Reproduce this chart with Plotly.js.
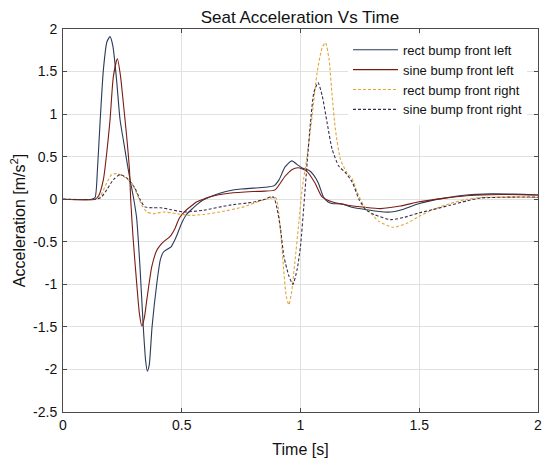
<!DOCTYPE html>
<html>
<head>
<meta charset="utf-8">
<script src="https://cdn.plot.ly/plotly-3.0.1.min.js"></script>
<style>html,body{margin:0;padding:0;background:#fff;}#chart{width:542px;height:459px;}</style>
</head>
<body>
<div id="chart"></div>
<script>
// Time [s] / acceleration [m/s^2] samples
var tRectLeft = [0,0.12,0.135,0.145,0.156,0.17,0.185,0.198,0.21,0.225,0.24,0.255,0.268,0.283,0.298,0.31,0.324,0.338,0.348,0.355,0.363,0.375,0.395,0.41,0.423,0.437,0.455,0.467,0.48,0.5,0.52,0.545,0.565,0.59,0.62,0.66,0.70,0.75,0.80,0.85,0.89,0.91,0.935,0.963,0.985,1.005,1.035,1.054,1.075,1.096,1.115,1.132,1.174,1.216,1.272,1.33,1.38,1.43,1.5,1.6,1.7,1.8,1.9,2.0];
var aRectLeft = [0,0,0.02,0.35,0.9,1.52,1.85,1.91,1.8,1.42,0.94,0.68,0.46,0.22,0,-0.22,-0.79,-1.5,-1.9,-2.02,-1.95,-1.5,-0.99,-0.71,-0.62,-0.59,-0.56,-0.5,-0.42,-0.28,-0.18,-0.11,-0.06,-0.01,0.03,0.07,0.1,0.12,0.13,0.14,0.16,0.23,0.38,0.45,0.41,0.37,0.34,0.29,0.19,0.03,-0.03,-0.05,-0.055,-0.094,-0.12,-0.145,-0.15,-0.12,-0.05,0.01,0.05,0.063,0.06,0.05];

var tSineLeft = [0,0.135,0.15,0.17,0.184,0.198,0.212,0.229,0.242,0.254,0.268,0.28,0.285,0.295,0.31,0.322,0.332,0.342,0.353,0.374,0.395,0.41,0.423,0.45,0.472,0.49,0.514,0.54,0.563,0.6,0.62,0.70,0.80,0.85,0.893,0.935,0.965,0.99,1.026,1.061,1.09,1.132,1.2,1.272,1.336,1.42,1.5,1.6,1.7,1.84,2.0];
var aSineLeft = [0,0,0.04,0.23,0.54,0.93,1.44,1.65,1.45,1.13,0.74,0.34,0.0,-0.45,-0.98,-1.35,-1.49,-1.4,-1.18,-0.79,-0.6,-0.54,-0.5,-0.44,-0.34,-0.22,-0.14,-0.08,-0.03,0.01,0.03,0.07,0.09,0.095,0.11,0.27,0.35,0.37,0.33,0.19,0.03,-0.03,-0.07,-0.095,-0.11,-0.08,-0.03,0.01,0.04,0.055,0.05];

var tRectRight = [0,0.14,0.156,0.184,0.205,0.226,0.254,0.29,0.31,0.332,0.353,0.38,0.423,0.479,0.535,0.59,0.66,0.76,0.83,0.87,0.895,0.905,0.92,0.93,0.94,0.951,0.962,0.976,0.993,1.007,1.028,1.049,1.07,1.091,1.105,1.12,1.133,1.147,1.168,1.196,1.218,1.239,1.267,1.288,1.33,1.39,1.45,1.5,1.56,1.63,1.7,1.76,1.9,2.0];
var aRectRight = [0,0,0.03,0.19,0.29,0.3,0.27,0.19,0.07,-0.07,-0.15,-0.17,-0.15,-0.17,-0.19,-0.18,-0.15,-0.09,-0.02,0.01,0.02,-0.08,-0.51,-0.86,-1.14,-1.24,-1.1,-0.75,-0.27,0.12,0.51,0.98,1.49,1.78,1.84,1.65,1.22,0.82,0.47,0.31,0.24,0.08,-0.08,-0.14,-0.26,-0.33,-0.28,-0.2,-0.12,-0.05,0,0.02,0.025,0.02];

var tSineRight = [0,0.14,0.16,0.184,0.212,0.24,0.268,0.303,0.324,0.345,0.38,0.41,0.451,0.507,0.59,0.7,0.8,0.85,0.875,0.888,0.902,0.916,0.93,0.951,0.968,0.986,1.0,1.014,1.028,1.042,1.056,1.074,1.091,1.112,1.133,1.161,1.19,1.218,1.246,1.274,1.31,1.38,1.44,1.5,1.56,1.63,1.7,1.76,1.9,2.0];
var aSineRight = [0,0,0.02,0.11,0.23,0.29,0.25,0.13,0,-0.09,-0.1,-0.1,-0.12,-0.15,-0.13,-0.07,-0.035,0.0,0.03,0.02,-0.12,-0.35,-0.67,-0.9,-1.0,-0.82,-0.55,-0.08,0.43,0.9,1.25,1.37,1.22,0.9,0.59,0.39,0.31,0.2,0,-0.12,-0.18,-0.24,-0.21,-0.16,-0.12,-0.07,-0.02,0.015,0.025,0.025];

var seriesNames = ['rect bump front left','sine bump front left','rect bump front right','sine bump front right'];
var xTickVals = [0,0.5,1,1.5,2];
var xTickText = ['0','0.5','1','1.5','2'];
var yTickVals = [2,1.5,1,0.5,0,-0.5,-1,-1.5,-2,-2.5];
var yTickText = ['2','1.5','1','0.5','0','-0.5','-1','-1.5','-2','-2.5'];

var font = 'Liberation Sans, Arial, sans-serif';
function tr(x, y, name, color, dash) {
  return {x: x, y: y, name: name, type: 'scatter', mode: 'lines',
    line: {color: color, width: 1.1, dash: dash, shape: 'spline', smoothing: 0.6}};
}
var data = [
  tr(tRectLeft, aRectLeft, seriesNames[0], '#2a3a58', 'solid'),
  tr(tSineLeft, aSineLeft, seriesNames[1], '#7a1c12', 'solid'),
  tr(tRectRight, aRectRight, seriesNames[2], '#e2a53a', '3px,2px'),
  tr(tSineRight, aSineRight, seriesNames[3], '#3a2e4c', '3px,2px')
];
var axisCommon = {
  showline: true, mirror: 'ticks', linecolor: '#4a4a4a', linewidth: 1,
  ticks: 'inside', ticklen: 4, tickcolor: '#4a4a4a',
  showgrid: true, gridcolor: '#e1e1e1', gridwidth: 1, zeroline: false,
  ticklabeloverflow: 'allow',
  tickfont: {family: font, size: 14, color: '#111'}
};
var layout = {
  width: 542, height: 459,
  margin: {l: 63, r: 4, t: 29, b: 47},
  paper_bgcolor: '#fff', plot_bgcolor: '#fff',
  font: {family: font, color: '#111'},
  title: {text: 'Seat Acceleration Vs Time', font: {family: font, size: 17, color: '#111'},
    x: 0.5535, xanchor: 'center', y: 0.975, yanchor: 'top'},
  xaxis: Object.assign({}, axisCommon, {range: [0, 2], tickvals: xTickVals, ticktext: xTickText,
    title: {text: 'Time [s]', font: {family: font, size: 16, color: '#111'}, standoff: 12}}),
  yaxis: Object.assign({}, axisCommon, {range: [-2.5, 2], tickvals: yTickVals, ticktext: yTickText,
    ticklabelstandoff: 2,
    title: {text: 'Acceleration [m/s<sup>2</sup>]', font: {family: font, size: 16, color: '#111'}, standoff: 3}}),
  showlegend: true,
  legend: {x: 0.6, xanchor: 'left', y: 0.985, yanchor: 'top', bgcolor: '#fff', borderwidth: 0,
    font: {family: font, size: 13, color: '#111'}, itemwidth: 45, tracegroupgap: 0}
};
Plotly.newPlot('chart', data, layout, {displayModeBar: false, staticPlot: true});
</script>
</body>
</html>
